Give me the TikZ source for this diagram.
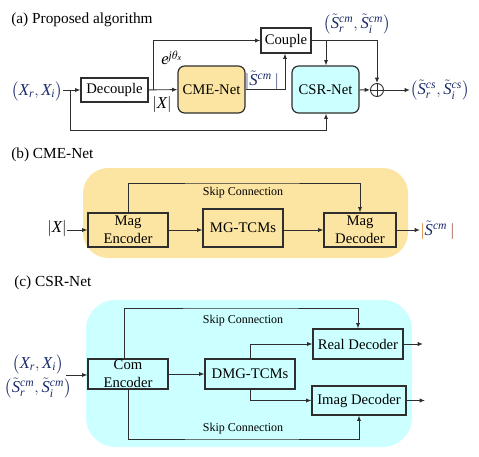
\documentclass[tikz,border=0pt]{standalone}
\usepackage{fontspec}
\setmainfont{Liberation Serif}
\usepackage{amsmath}
\usetikzlibrary{arrows.meta,positioning,calc}
\definecolor{navy}{HTML}{1B2A6B}
\definecolor{cmefill}{HTML}{FCE4A2}
\definecolor{csrfill}{HTML}{CCFFFF}
\definecolor{edge}{HTML}{2E2E2E}
\definecolor{barred}{HTML}{8B2A1A}

\begin{document}
\begin{tikzpicture}[
  x=0.75pt, y=-0.75pt,
  sz/.style 2 args={minimum width=#1*0.75pt, minimum height=#2*0.75pt},
  box/.style={draw=edge, line width=0.9pt, inner sep=0pt, font=\fontsize{11}{13.5}\selectfont},
  net/.style={box, rounded corners=5pt},
  lbl/.style={inner sep=0pt, align=center, font=\fontsize{11}{13.5}\selectfont},
  mth/.style={inner sep=0pt, text=navy, font=\fontsize{12.5}{14}\selectfont},
  skiplbl/.style={inner sep=0pt, font=\fontsize{9}{11}\selectfont},
  ttl/.style={anchor=west, inner sep=0pt, font=\fontsize{11.5}{13}\selectfont},
  arr/.style={-{Latex[length=4pt,width=3.2pt]}, draw=edge, line width=0.7pt}
]
\useasboundingbox (0,0) rectangle (479,457);

% (a) proposed algorithm
\node[ttl] (ta) at (11,20) {(a) Proposed algorithm};
\node[mth, anchor=east] (xin) at (63,91) {$\bigl(\mathit{X}_{\mathit{r}},\mathit{X}_{\mathit{i}}\bigr)$};
\node[box, sz={67}{24}] (dec) at (114.5,90) {Decouple};
\node[net, fill=cmefill, sz={67}{47}] (cme) at (211.5,89.5) {CME-Net};
\node[box, sz={50}{25}] (cpl) at (286,40.5) {Couple};
\node[net, fill=csrfill, sz={67}{47}] (csr) at (325.5,89.5) {CSR-Net};
\node[draw=edge, line width=0.7pt, circle, minimum size=13*0.75pt, inner sep=0pt] (add) at (377,90) {};
\draw[line width=0.7pt, edge] (add.north) -- (add.south) (add.west) -- (add.east);
\node[mth, anchor=west] (sout) at (410,90) {$\bigl(\tilde{\mathit{S}}_{\mathit{r}}^{\mathit{cs}},\tilde{\mathit{S}}_{\mathit{i}}^{\mathit{cs}}\bigr)$};
\node[mth] (scm) at (357,24) {$\bigl(\tilde{\mathit{S}}_{\mathit{r}}^{\mathit{cm}},\tilde{\mathit{S}}_{\mathit{i}}^{\mathit{cm}}\bigr)$};
\node[mth, text=black] (phase) at (172,58) {$\mathit{e}^{\mathit{j}\theta_{\mathit{x}}}$};
\node[mth, text=black] (magx) at (162,104) {$|\mathit{X}|$};
\node[mth, text=navy] (mags) at (262,80) {$|\tilde{\mathit{S}}^{\mathit{cm}}\,|$};

\coordinate (fb) at (70,90);
\coordinate (sp) at (153,90);
\coordinate (cs) at (326,41);

\draw[arr] (xin.east |- dec) -- (dec);
\draw[arr] (dec) -- (cme);
\draw[arr] (sp) |- (cpl);
\draw[arr] (cme.east) -| (cpl.south -| 285,0);
\draw[arr] (cpl.east) -| (add.north);
\draw[arr] (cs) -- (csr.north -| cs);
\draw[arr] (csr) -- (add);
\draw[arr] (add) -- (sout);
\draw[arr] (fb) |- (326,130) -- (csr.south -| cs);

% (b) CME-Net
\node[ttl] (tb) at (11,155) {(b) CME-Net};
\fill[cmefill, rounded corners=19pt] (83,168) rectangle (408,258);
\node[box, sz={80}{34}] (menc) at (128,230) {};
\node[lbl] (menct) at (menc) {Mag\\Encoder};
\node[box, sz={80}{38}] (mgt) at (243,228) {MG-TCMs};
\node[box, sz={72}{34}] (mdec) at (360,230) {};
\node[lbl] (mdect) at (mdec) {Mag\\Decoder};
\node[mth, text=black] (bin) at (57,228) {$|\mathit{X}|$};
\node[mth, anchor=west] (bout) at (420,230) {\textcolor{orange!80!black}{$|$}$\tilde{\mathit{S}}^{\mathit{cm}}$\,\textcolor{barred}{$|$}};
\node[skiplbl] (bskip) at (243,193) {Skip Connection};

\draw[arr] (bin.east |- menc) -- (menc);
\draw[arr] (menc) -- (mgt.west |- menc);
\draw[arr] (mgt.east |- mdec) -- (mdec);
\draw[arr] (mdec) -- (bout);
\draw[arr] (menc.north) |- (240,183) -| (mdec.north);

% (c) CSR-Net
\node[ttl] (tc) at (14,283) {(c) CSR-Net};
\fill[csrfill, rounded corners=22pt] (86,300) rectangle (412,447);
\node[box, sz={80}{30}] (cenc) at (128,374) {};
\node[lbl] (cenct) at (cenc) {Com\\Encoder};
\node[box, sz={90}{30}] (dmg) at (250,374) {DMG-TCMs};
\node[box, sz={90}{30}] (rdec) at (358,344) {Real Decoder};
\node[box, sz={94}{29}] (idec) at (359,400.5) {Imag Decoder};
\node[mth] (cin1) at (38,364) {$\bigl(\mathit{X}_{\mathit{r}},\mathit{X}_{\mathit{i}}\bigr)$};
\node[mth] (cin2) at (38,388) {$\bigl(\tilde{\mathit{S}}_{\mathit{r}}^{\mathit{cm}},\tilde{\mathit{S}}_{\mathit{i}}^{\mathit{cm}}\bigr)$};
\node[skiplbl] (cskip1) at (243,321) {Skip Connection};
\node[skiplbl] (cskip2) at (243,429) {Skip Connection};
\coordinate (rout) at (423,344);
\coordinate (iout) at (425,400.5);

\draw[arr] (66,375) -- (cenc.west |- 0,375);
\draw[arr] (cenc) -- (dmg);
\draw[arr] (dmg.north) |- (rdec);
\draw[arr] (dmg.south) |- (idec);
\draw[arr] (124,359) |- (240,308) -| (rdec.north);
\draw[arr] (128,389) |- (240,439) -| (idec.south);
\draw[arr] (rdec) -- (rout);
\draw[arr] (idec) -- (iout);
\end{tikzpicture}
\end{document}
